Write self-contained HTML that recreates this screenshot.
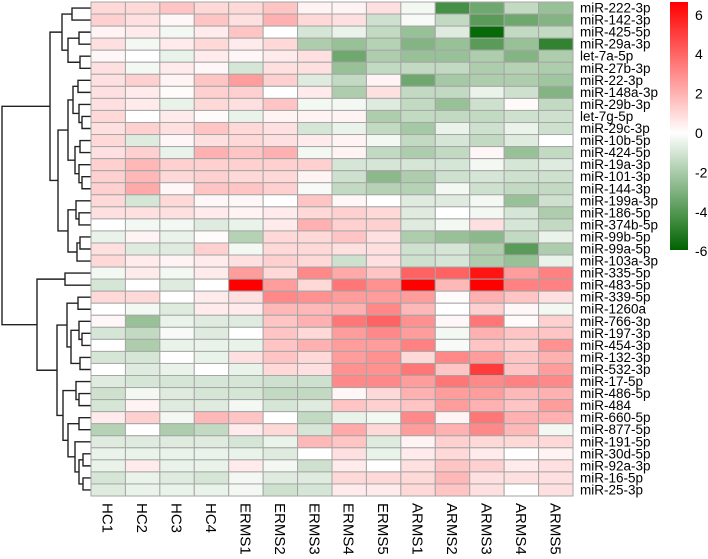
<!DOCTYPE html>
<html><head><meta charset="utf-8"><style>
html,body{margin:0;padding:0;background:#fff;}
svg{display:block;font-family:"Liberation Sans",Arial,sans-serif;}
</style></head><body>
<svg id="chart" width="708" height="559" xmlns="http://www.w3.org/2000/svg">
<defs><linearGradient id="cbg" x1="0" y1="0" x2="0" y2="1">
<stop offset="0" stop-color="#FF0000"/><stop offset="0.528" stop-color="#FFFFFF"/><stop offset="1" stop-color="#006400"/>
</linearGradient></defs>
<g id="dendro"></g>
<g id="cells"></g>
<g id="rowlabels"></g>
<g id="collabels"></g>
<g id="legend">
<rect x="670" y="2" width="18" height="248" fill="url(#cbg)"/>
</g>
</svg>
<script>
const columns=["HC1","HC2","HC3","HC4","ERMS1","ERMS2","ERMS3","ERMS4","ERMS5","ARMS1","ARMS2","ARMS3","ARMS4","ARMS5"];
const rowsNames=["miR-222-3p","miR-142-3p","miR-425-5p","miR-29a-3p","let-7a-5p","miR-27b-3p","miR-22-3p","miR-148a-3p","miR-29b-3p","let-7g-5p","miR-29c-3p","miR-10b-5p","miR-424-5p","miR-19a-3p","miR-101-3p","miR-144-3p","miR-199a-3p","miR-186-5p","miR-374b-5p","miR-99b-5p","miR-99a-5p","miR-103a-3p","miR-335-5p","miR-483-5p","miR-339-5p","miR-1260a","miR-766-3p","miR-197-3p","miR-454-3p","miR-132-3p","miR-532-3p","miR-17-5p","miR-486-5p","miR-484","miR-660-5p","miR-877-5p","miR-191-5p","miR-30d-5p","miR-92a-3p","miR-16-5p","miR-25-3p"];
const values=[
[1,1,1.5,1,1,1.5,0.3,0.3,0.8,-0.3,-4.5,-3.5,-1.5,-2.5],
[1.2,0.8,0.2,1.5,0.8,2,1,0.8,-1.2,-0.2,-1.5,-4,-3.5,-3],
[0.3,0.5,-0.3,0.5,1.5,0,-1,-0.5,-1.5,-2.5,-0.8,-6,-1.5,-1.5],
[0.8,-0.3,0.5,1,0.5,1,-2,-2.5,-1.8,-3,-2.5,-4,-2.5,-5],
[0.2,0,-0.5,0.5,0.2,0.5,0.8,-3.5,-2,-2.5,-2.5,-2,-3,-2],
[0.8,-0.3,0.5,0.2,-1,0.8,0.8,-2.5,-1.5,-1.5,-1.5,-2,-1.8,-2],
[0.8,1.2,0.3,1.5,2.5,1.2,-0.8,-1.5,0.3,-3.5,-2.2,-2,-2,-2.3],
[0.8,0.5,0.1,1.2,1.2,0,0.5,-2,0.8,-1.5,-1.5,-0.5,-1.2,-3],
[0.8,0.5,-0.5,1,0.8,1.5,-0.3,-0.3,-0.8,-1.5,-2.5,-1.2,0.1,-1.5],
[1,0,0.5,0.1,-0.5,0.3,0.3,0.3,-2,-1.5,-1.5,-1.5,-1.2,-1.2],
[0.8,1.2,0.8,1.5,1,0.8,-1,-0.5,-1.5,-2.2,-0.5,-1.2,-0.5,-1.2],
[1,-0.8,0.2,0.8,1,0.8,0.5,0.3,-0.3,-1.5,-1,-1.5,-0.8,0],
[0.8,1.2,-0.5,2,1.5,2,-0.3,0.3,-1.5,-2,-1.5,0.2,-2.5,-1.5],
[1.2,1.8,1.2,1.2,1.2,1.2,1.2,-1,-1,-1,-1,-0.3,-1,-0.8],
[1.2,1.8,1,1.2,1,1,0.3,-1.2,-2.8,-2,-1.2,-1,-1.2,-1.2],
[1.2,2.2,0.2,1.5,1.5,1.2,-0.2,-1.5,-1.8,-1.8,-0.3,-1.2,-1.5,-1.5],
[1,-1,1,0.2,0.2,0,1.5,0.2,0,-0.8,-0.8,-0.3,-2.5,-1.2],
[0.8,0.8,0.8,0.5,0.3,0.5,1,1.2,1,-0.8,0,-0.3,-1,-2],
[0,-0.3,-0.3,-0.8,-0.5,0.5,2,1.2,1.2,-0.8,-0.3,0.8,-1,-1.5],
[-0.5,0.3,-0.5,0.1,-1.8,1,1,1.5,0.8,-2,-2.5,-2.8,-1.5,-0.5],
[0.8,-0.8,-0.8,1.2,-0.3,1,1,0.8,0.8,-1.2,-1,-2,-4,-2],
[1,0.5,0.3,0.5,0.8,1.2,1,-1.2,0.8,-1.2,-1,-2,-2.5,-0.5],
[-0.3,0.5,-0.3,0.5,2.5,1,3,2.2,1.5,4,4,6,2.5,3.2],
[-1,0,-0.8,0,6.5,2.5,1,3.5,2.8,6.5,1.8,6.5,3.2,3.2],
[1,1,0,0.5,0.8,3,2.8,2.5,2.5,2.5,0.1,2,1.5,0.8],
[0,-0.3,-0.8,0.5,0.5,1.8,1.8,2,3,1.8,0,1.2,0.2,-0.3],
[0.2,-2.5,-0.5,-0.8,-0.8,1.5,2,3.5,4,2.8,0.2,3.5,0.1,1.2],
[-1,-1.5,-0.2,-0.8,0,1.5,1,2.5,3,2.5,-0.3,2,1.5,1.5],
[0,-2,-0.5,-0.5,-0.5,1.5,2,2.5,2.5,3.2,-0.2,1.5,1.2,2.8],
[-1,-1,0,-0.5,0.8,1.5,1,2.5,2.8,1,3,2.5,1.5,2],
[0,-0.8,-0.5,0,-0.5,1,0.8,2.8,2.8,3.5,1.5,5,1.5,2.5],
[-0.8,-1,-1,-1,-1,-1.2,-1.2,3,3,2.5,3.5,3,3.2,3],
[-1.2,-0.3,-0.8,-1,-1,-1.5,-1.5,0.2,1,2,2.5,2.5,1.8,2],
[-1,0.3,-0.8,-0.8,-0.3,-1,-0.8,1.5,1.2,1.5,2.5,2,1.5,2.5],
[0.5,1.2,-0.3,1.8,1.5,0,-1.5,-0.5,-0.3,3,0.3,3.5,2,2],
[-1.8,0,-2,-1.5,0.5,1,-1,2.2,1,2.5,2,3,1.8,-0.3],
[-0.8,-0.8,-0.8,-0.8,-1,-0.5,1.8,1.5,-0.8,0.3,1.2,1,1,1],
[-0.5,-0.5,-0.5,-0.5,-0.5,-0.8,0,0.8,-0.5,0.5,1,0.5,0,0.3],
[-0.5,0.5,-0.5,-0.5,0.5,-0.3,-1.2,0.5,0,0.8,1.5,1.2,0.5,0.8],
[-1,-0.5,-0.8,-1,-0.3,-0.8,-0.8,1,1,1,1.8,0.8,0.8,0.8],
[-0.8,-0.5,-0.5,-0.5,-0.3,-1.2,-1,0.5,0.5,1,1.5,0.8,0,0.8]
];
const legendTicks=[6,4,2,0,-2,-4,-6];
// dendrogram: [height, left, right], leaves are row indices
const tree=[89,
 [41,
  [29,[19,0,1],[23,[12,2,3],[11,4,5]]],
  [33,
   [23,[18,[13,6,7],[12,8,[9,9,10]]],[16,[11,11,12],[12,13,[9,14,15]]]],
   [23,[15,16,[12,17,18]],[14,[11,19,20],21]]]],
 [54,
  [26,22,23],
  [34,
   [24,[13,24,25],[20,[12,26,[9,27,28]],[11,29,30]]],
   [28,[15,31,[12,32,33]],[23,[12,34,35],[16,36,[12,[8,37,38],[8,39,40]]]]]]]];

const NS="http://www.w3.org/2000/svg";
const X0=91,X1=573,Y0=2,Y1=496;
const cw=(X1-X0)/columns.length, rh=(Y1-Y0)/rowsNames.length;
const xCol=i=>X0+i*cw, yRow=j=>Y0+j*rh;
const VMAX=6.5,VMIN=-6.2;
function color(v){
  if(v>=0){const t=Math.min(v/VMAX,1);const c=Math.round(255*(1-t));return `rgb(255,${c},${c})`;}
  const t=Math.min(v/VMIN,1);
  return `rgb(${Math.round(255*(1-t))},${Math.round(255-155*t)},${Math.round(255*(1-t))})`;
}
function mk(tag,attrs,parent){const e=document.createElementNS(NS,tag);for(const k in attrs)e.setAttribute(k,attrs[k]);parent.appendChild(e);return e;}
const cells=document.getElementById('cells');
values.forEach((row,j)=>row.forEach((v,i)=>{
  const r=mk('rect',{x:xCol(i),y:yRow(j),width:cw,height:rh,fill:color(v),stroke:'#a6a6a6','stroke-width':1},cells);
  
  
}));
const rl=document.getElementById('rowlabels');
rowsNames.forEach((n,j)=>{
  const t=mk('text',{x:X1+7,y:yRow(j)+rh/2+4.5,'font-size':13.5,fill:'#000'},rl);
  t.textContent=n;
  
  
});
const cl=document.getElementById('collabels');
columns.forEach((n,i)=>{
  const cx=xCol(i)+cw/2-5.5, cy=503;
  const t=mk('text',{x:cx,y:cy,'font-size':15,fill:'#000',transform:`rotate(90 ${cx} ${cy})`},cl);
  t.textContent=n;
  
  
});
const lg=document.getElementById('legend');
const cbY=v=>133-v*19.7;
legendTicks.forEach(v=>{
  const t=mk('text',{x:695,y:cbY(v)+5,'font-size':14,fill:'#000'},lg);
  t.textContent=String(v);
  
  
});
const dg=document.getElementById('dendro');
function draw(n){
  if(typeof n==='number')return {x:X0,y:yRow(n)+rh/2};
  const a=draw(n[1]),b=draw(n[2]);const x=X0-n[0];
  const p=mk('path',{d:`M${a.x} ${a.y}H${x}V${b.y}H${b.x}`,fill:'none',stroke:'#222','stroke-width':1.4},dg);
  
  
  return {x:x,y:(a.y+b.y)/2};
}
draw(tree);
</script>
</body></html>
